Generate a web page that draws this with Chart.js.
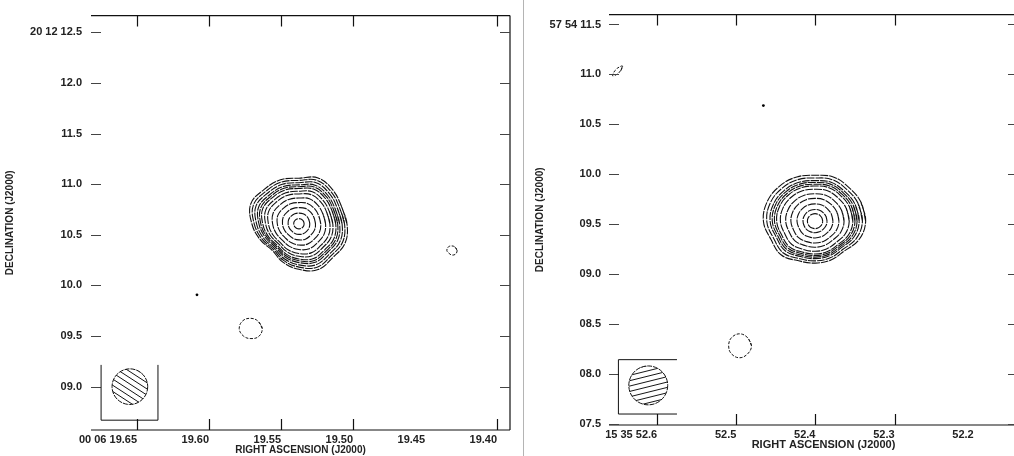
<!DOCTYPE html>
<html>
<head>
<meta charset="utf-8">
<script src="https://cdn.jsdelivr.net/npm/chart.js@4/dist/chart.umd.min.js"></script>
<style>
  body { margin: 0; background: #fff; }
  #page { position: relative; width: 1014px; height: 456px; overflow: hidden; background: #fff; }
  #wrapL { position: absolute; left: 0; top: 0; width: 520px; height: 456px; }
  #wrapR { position: absolute; left: 524px; top: 0; width: 498px; height: 456px; }
  #sep { position: absolute; left: 523px; top: 0; width: 1px; height: 456px; background: #b4b4b4; }
</style>
</head>
<body>
<div id="page">
  <div id="wrapL"><canvas id="mapL"></canvas></div>
  <div id="sep"></div>
  <div id="wrapR"><canvas id="mapR"></canvas></div>
</div>
<script>
// ---- left map : 00 06 +20 12 ----
let raTicksL   = [19.65, 19.60, 19.55, 19.50, 19.45, 19.40];
let raLabelsL  = ['00 06 19.65', '19.60', '19.55', '19.50', '19.45', '19.40'];
let raMarksL   = [19.65, 19.60, 19.55, 19.50, 19.40];   // no tick drawn at 19.45
let decTicksL  = [12.5, 12.0, 11.5, 11.0, 10.5, 10.0, 9.5, 9.0];
let decLabelsL = ['20 12 12.5', '12.0', '11.5', '11.0', '10.5', '10.0', '09.5', '09.0'];
let raRangeL   = [19.391, 19.682];
let decRangeL  = [8.572, 12.665];
let decCentreL = 20.2;

let srcL      = [19.5376, 10.609];
// outer contour, radius (arcsec) every 22.5 deg, counter-clockwise from west
let outlineL  = [0.47, 0.45, 0.47, 0.49, 0.45, 0.47, 0.48, 0.51, 0.46, 0.41, 0.37, 0.41, 0.45, 0.49, 0.47, 0.49];
let levelsL   = [0.11, 0.23, 0.35, 0.46, 0.56, 0.65, 0.71, 0.77, 0.81, 0.85, 0.90, 0.95, 1.0];
let negL      = [19.5709, 9.575];
let negShapeL = [0.11, 0.10, 0.10, 0.11, 0.115, 0.105, 0.10, 0.11];
let blobL     = [19.4313, 10.345];
let blobShapeL= [0.05, 0.045, 0.045, 0.05, 0.05, 0.04, 0.045, 0.05];
let dotL      = [19.6084, 9.907];
let beamL     = [19.655, 9.0, 0.176];
let beamBoxL  = [19.675, 19.6355, 9.215, 8.669];

// ---- right map : 15 35 +57 54 ----
let raTicksR   = [52.6, 52.5, 52.4, 52.3, 52.2];
let raLabelsR  = ['15 35 52.6', '52.5', '52.4', '52.3', '52.2'];
let raMarksR   = [52.6, 52.5, 52.4, 52.3];
let decTicksR  = [11.5, 11.0, 10.5, 10.0, 9.5, 9.0, 8.5, 8.0, 7.5];
let decLabelsR = ['57 54 11.5', '11.0', '10.5', '10.0', '09.5', '09.0', '08.5', '08.0', '07.5'];
let raRangeR   = [52.144, 52.6609];
let decRangeR  = [7.485, 11.599];
let decCentreR = 57.9;

let srcR      = [52.4005, 9.528];
let outlineR  = [0.51, 0.50, 0.48, 0.48, 0.46, 0.48, 0.50, 0.52, 0.52, 0.48, 0.48, 0.43, 0.42, 0.42, 0.42, 0.48];
let levelsR   = [0.16, 0.25, 0.37, 0.49, 0.59, 0.69, 0.76, 0.80, 0.84, 0.88, 0.94, 1.0];
let negR      = [52.4959, 8.279];
let negShapeR = [0.12, 0.115, 0.12, 0.115, 0.11, 0.115, 0.12, 0.115];
let arcR      = [52.650, 11.034];
let arcShapeR = [0.03, 0.07, 0.03, 0.02, 0.03, 0.07, 0.03, 0.02];
let dotR      = [52.4658, 10.687];
let beamR     = [52.6113, 7.882, 0.195];
let beamBoxR  = [52.649, 52.575, 8.140, 7.595];

const FONT = "'Liberation Sans', Arial, sans-serif";

// contour rings: outline scaled by level, inner rings rounder
function rings(centre, decDeg, radii, levels) {
    const k = 15 * Math.cos(decDeg * Math.PI / 180);
    const mean = radii.reduce((a, b) => a + b, 0) / radii.length;
    return levels.map(s => {
        const pts = radii.map((r, i) => {
            const th = i * 2 * Math.PI / radii.length;
            const rr = s * ((1 - s) * mean + s * r);
            return {x: centre[0] - rr * Math.cos(th) / k, y: centre[1] + rr * Math.sin(th)};
        });
        pts.push(pts[0], pts[1]);
        return pts;
    });
}

function contourSets(list, dash, width) {
    return list.map(pts => ({
        data: pts,
        showLine: true,
        borderColor: '#111',
        borderWidth: width,
        borderDash: dash,
        tension: 0.4,
        pointRadius: 0
    }));
}

// frame, inward ticks, beam and RA title
const framePlugin = {
    id: 'frame',
    afterDatasetsDraw(chart, args, o) {
        const {ctx, chartArea: a, scales: {x, y}} = chart;
        ctx.save();
        ctx.strokeStyle = '#111';
        ctx.lineWidth = 1.2;
        ctx.beginPath();
        ctx.moveTo(a.left, a.top); ctx.lineTo(a.right, a.top);
        ctx.moveTo(a.left, a.bottom); ctx.lineTo(a.right, a.bottom);
        ctx.moveTo(a.right, a.top); ctx.lineTo(a.right, a.bottom);
        o.xMarks.forEach(v => {
            const px = Math.round(x.getPixelForValue(v)) + 0.5;
            ctx.moveTo(px, a.top); ctx.lineTo(px, a.top + 11);
            ctx.moveTo(px, a.bottom); ctx.lineTo(px, a.bottom - 11);
        });
        ctx.stroke();
        ctx.strokeStyle = '#444';
        ctx.beginPath();
        o.yMarks.forEach(v => {
            const py = Math.round(y.getPixelForValue(v)) + 0.5;
            ctx.moveTo(a.left, py); ctx.lineTo(a.left + 10, py);
            ctx.moveTo(a.right, py); ctx.lineTo(a.right - 10, py);
        });
        ctx.stroke();

        // beam box
        const bx0 = x.getPixelForValue(o.box[0]), bx1 = x.getPixelForValue(o.box[1]);
        const by0 = y.getPixelForValue(o.box[2]), by1 = y.getPixelForValue(o.box[3]);
        ctx.strokeStyle = '#111';
        ctx.lineWidth = 1;
        ctx.beginPath();
        if (o.boxSides.includes('t')) { ctx.moveTo(bx0, by0); ctx.lineTo(bx1, by0); }
        if (o.boxSides.includes('b')) { ctx.moveTo(bx0, by1); ctx.lineTo(bx1, by1); }
        if (o.boxSides.includes('l')) { ctx.moveTo(bx0, by0); ctx.lineTo(bx0, by1); }
        if (o.boxSides.includes('r')) { ctx.moveTo(bx1, by0); ctx.lineTo(bx1, by1); }
        ctx.stroke();

        // beam with hatching
        const cx = x.getPixelForValue(o.beam[0]), cy = y.getPixelForValue(o.beam[1]);
        const rad = Math.abs(y.getPixelForValue(o.beam[1] - o.beam[2]) - cy);
        ctx.setLineDash([5, 1]);
        ctx.beginPath();
        ctx.arc(cx, cy, rad, 0, Math.PI * 2);
        ctx.stroke();
        ctx.setLineDash([]);
        ctx.save();
        ctx.beginPath();
        ctx.arc(cx, cy, rad, 0, Math.PI * 2);
        ctx.clip();
        ctx.translate(cx, cy);
        ctx.rotate(o.hatchAngle * Math.PI / 180);
        ctx.beginPath();
        for (let d = -rad; d <= rad; d += o.hatchStep) {
            ctx.moveTo(-rad - 2, d); ctx.lineTo(rad + 2, d);
        }
        ctx.lineWidth = 0.9;
        ctx.stroke();
        ctx.restore();

        // RA axis title
        ctx.fillStyle = '#222';
        ctx.font = 'bold ' + o.titleSize + 'px ' + FONT;
        ctx.textAlign = 'center';
        ctx.textBaseline = 'middle';
        ctx.fillText('RIGHT ASCENSION (J2000)', (a.left + a.right) / 2 + o.titleShift, o.titleY);
        ctx.restore();
    }
};

function mapChart(id, cfg) {
    const tickFont = {family: FONT, size: 11, weight: 'bold'};
    const datasets = []
        .concat(contourSets(rings(cfg.src, cfg.decDeg, cfg.outline, cfg.levels), [8, 1], 1.1))
        .concat(contourSets(cfg.extra, [3, 1.5], 1))
        .concat([{data: [{x: cfg.dot[0], y: cfg.dot[1]}], pointRadius: 1.4, pointBackgroundColor: '#000', borderWidth: 0}]);

    return new Chart(document.getElementById(id).getContext('2d'), {
        type: 'scatter',
        data: {datasets: datasets},
        options: {
            responsive: true,
            maintainAspectRatio: false,
            animation: false,
            layout: {padding: {top: 10, right: cfg.padRight, bottom: 0, left: 0}},
            plugins: {
                legend: {display: false},
                tooltip: {enabled: false},
                frame: {xMarks: cfg.xMarks, yMarks: cfg.yTicks, beam: cfg.beam, box: cfg.box,
                        boxSides: cfg.boxSides, hatchAngle: cfg.hatchAngle, hatchStep: 5.2,
                        titleY: cfg.xTitleY, titleShift: cfg.xTitleShift, titleSize: cfg.xTitleSize}
            },
            scales: {
                x: {
                    type: 'linear',
                    reverse: true,
                    min: cfg.raRange[0],
                    max: cfg.raRange[1],
                    grid: {display: false, drawTicks: false},
                    border: {display: false},
                    afterBuildTicks: s => { s.ticks = cfg.xTicks.map(v => ({value: v})); },
                    afterFit: s => { s.height = cfg.xHeight; },
                    ticks: {
                        autoSkip: false, maxRotation: 0, align: 'end', padding: 3,
                        color: '#222', font: tickFont,
                        callback: (v, i) => cfg.xLabels[i]
                    }
                },
                y: {
                    type: 'linear',
                    min: cfg.decRange[0],
                    max: cfg.decRange[1],
                    grid: {display: false, drawTicks: false},
                    border: {display: false},
                    afterBuildTicks: s => { s.ticks = cfg.yTicks.map(v => ({value: v})); },
                    afterFit: s => { s.width = cfg.yWidth; },
                    ticks: {
                        autoSkip: false, padding: cfg.yPad,
                        color: '#222', font: tickFont,
                        callback: (v, i) => cfg.yLabels[i]
                    },
                    title: {display: true, text: 'DECLINATION (J2000)', color: '#222',
                            font: {family: FONT, size: 10, weight: 'bold'},
                            padding: {top: cfg.yTitlePad, bottom: 0}}
                }
            }
        },
        plugins: [framePlugin]
    });
}

mapChart('mapL', {
    src: srcL, decDeg: decCentreL, outline: outlineL, levels: levelsL,
    extra: rings(negL, decCentreL, negShapeL, [1]).concat(rings(blobL, decCentreL, blobShapeL, [1])),
    dot: dotL, beam: beamL, box: beamBoxL, boxSides: 'lrb', hatchAngle: 33,
    xTicks: raTicksL, xLabels: raLabelsL, xMarks: raMarksL,
    yTicks: decTicksL, yLabels: decLabelsL,
    raRange: raRangeL, decRange: decRangeL,
    padRight: 10, xHeight: 26, yWidth: 91, yPad: 9, yTitlePad: 4,
    xTitleY: 450, xTitleShift: 0, xTitleSize: 10
});

mapChart('mapR', {
    src: srcR, decDeg: decCentreR, outline: outlineR, levels: levelsR,
    extra: rings(negR, decCentreR, negShapeR, [1]).concat(rings(arcR, decCentreR, arcShapeR, [1])),
    dot: dotR, beam: beamR, box: beamBoxR, boxSides: 'tbl', hatchAngle: -14,
    xTicks: raTicksR, xLabels: raLabelsR, xMarks: raMarksR,
    yTicks: decTicksR, yLabels: decLabelsR,
    raRange: raRangeR, decRange: decRangeR,
    padRight: 1, xHeight: 31, yWidth: 85, yPad: 8, yTitlePad: 10,
    xTitleY: 445, xTitleShift: 10, xTitleSize: 11
});
</script>
</body>
</html>
